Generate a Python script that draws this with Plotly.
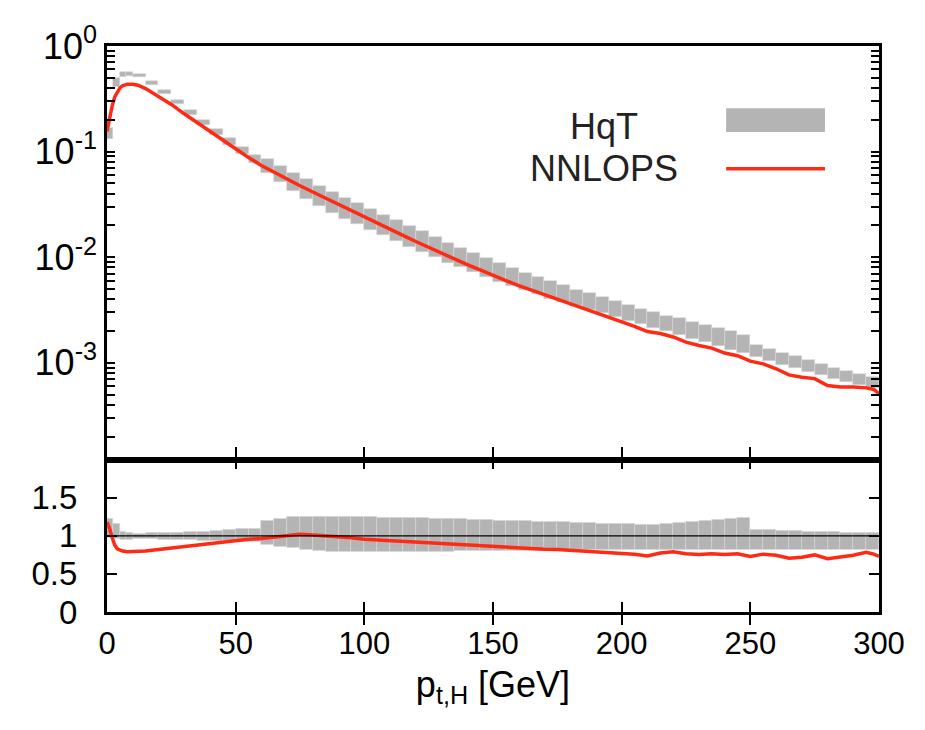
import plotly.graph_objects as go

# ---------------- data ----------------
# HqT bins (GeV)
bin_edges = [0, 2.5, 5, 7.5, 10, 15, 20, 25, 30, 35, 40, 45, 50, 55, 60, 65, 70, 75, 80, 85,
             90, 95, 100, 105, 110, 115, 120, 125, 130, 135, 140, 145, 150, 155, 160, 165, 170,
             175, 180, 185, 190, 195, 200, 205, 210, 215, 220, 225, 230, 235, 240, 245, 250, 255,
             260, 265, 270, 275, 280, 285, 290, 295, 300]
# HqT central value per bin
hqt_central = [0.135, 0.43, 0.53, 0.55, 0.53, 0.45, 0.365, 0.295, 0.237, 0.19, 0.153, 0.124,
               0.102, 0.085, 0.0712, 0.0598, 0.0506, 0.0436, 0.0380, 0.0333, 0.0294, 0.0260,
               0.0230, 0.0204, 0.0181, 0.0160, 0.0142, 0.0126, 0.0112, 0.0100, 0.0090, 0.0081,
               0.0073, 0.0066, 0.0060, 0.0055, 0.0050, 0.0046, 0.0042, 0.0039, 0.0036, 0.0033,
               0.00305, 0.00282, 0.00262, 0.00242, 0.00224, 0.00207, 0.00192, 0.00177, 0.00163,
               0.00150, 0.00138, 0.00127, 0.00117, 0.00108, 0.00100, 0.00093, 0.00086, 0.00080,
               0.00075, 0.00071]
# HqT uncertainty band relative to central (ratio panel)
hqt_lo_ratio = [0.97, 0.96, 0.95, 0.95, 0.96, 0.96, 0.955, 0.95, 0.945, 0.94, 0.935, 0.93,
                0.925, 0.92, 0.88, 0.86, 0.84, 0.82, 0.80, 0.79, 0.79, 0.79, 0.79, 0.79, 0.79,
                0.79, 0.79, 0.795, 0.795, 0.80, 0.80, 0.80, 0.805, 0.805, 0.81, 0.81, 0.81,
                0.815, 0.815, 0.815, 0.82, 0.82, 0.82, 0.82, 0.82, 0.82, 0.82, 0.82, 0.82, 0.82,
                0.82, 0.82, 0.82, 0.82, 0.82, 0.82, 0.82, 0.82, 0.82, 0.82, 0.82, 0.82]
hqt_hi_ratio = [1.23, 1.16, 1.06, 1.04, 1.03, 1.035, 1.04, 1.045, 1.05, 1.06, 1.07, 1.08,
                1.09, 1.10, 1.20, 1.22, 1.245, 1.25, 1.25, 1.25, 1.25, 1.245, 1.245, 1.24, 1.24,
                1.235, 1.235, 1.23, 1.225, 1.22, 1.215, 1.21, 1.205, 1.20, 1.195, 1.19, 1.185,
                1.18, 1.175, 1.17, 1.165, 1.16, 1.155, 1.15, 1.145, 1.16, 1.175, 1.19, 1.20,
                1.21, 1.22, 1.235, 1.08, 1.075, 1.07, 1.065, 1.06, 1.055, 1.05, 1.045, 1.04, 1.035]

# NNLOPS curve
nnlops_pt = [0, 1, 2, 3, 4, 5, 6, 8, 10, 12, 15, 20, 25, 30, 35, 40, 45, 50, 55, 60, 65, 70,
             75, 80, 85, 90, 95, 100, 105, 110, 115, 120, 125, 130, 135, 140, 145, 150, 155,
             160, 165, 170, 175, 180, 185, 190, 195, 200, 205, 210, 215, 220, 225, 230, 235,
             240, 245, 250, 255, 260, 265, 270, 275, 280, 285, 290, 295, 298, 300]
nnlops_val = [0.155, 0.21, 0.27, 0.33, 0.37, 0.40, 0.42, 0.435, 0.435, 0.425, 0.395, 0.335,
              0.28, 0.228, 0.188, 0.154, 0.127, 0.105, 0.088, 0.074, 0.0635, 0.0545, 0.0475,
              0.0415, 0.0362, 0.0317, 0.0278, 0.0238, 0.0208, 0.0183, 0.0161, 0.0141, 0.0124,
              0.0109, 0.0096, 0.0085, 0.0076, 0.0067, 0.0060, 0.0054, 0.0049, 0.0044, 0.0040,
              0.0036, 0.0033, 0.0030, 0.0027, 0.00245, 0.00222, 0.00198, 0.00190, 0.00176,
              0.00157, 0.00146, 0.00138, 0.00124, 0.00117, 0.00104, 0.00098, 0.00088, 0.00077,
              0.00073, 0.00071, 0.00061, 0.00059, 0.00059, 0.00058, 0.00056, 0.00051]
nnlops_ratio = [1.18, 1.10, 0.98, 0.88, 0.83, 0.81, 0.80, 0.79, 0.79, 0.795, 0.80, 0.82, 0.84,
                0.86, 0.88, 0.90, 0.92, 0.94, 0.955, 0.965, 0.98, 0.995, 1.02, 1.01, 1.00, 0.99,
                0.975, 0.955, 0.945, 0.94, 0.935, 0.925, 0.915, 0.905, 0.895, 0.88, 0.87, 0.86,
                0.845, 0.835, 0.83, 0.825, 0.82, 0.81, 0.80, 0.79, 0.775, 0.77, 0.76, 0.735,
                0.775, 0.79, 0.765, 0.755, 0.765, 0.755, 0.765, 0.73, 0.76, 0.745, 0.705, 0.72,
                0.75, 0.70, 0.72, 0.745, 0.785, 0.76, 0.73]

y_tickvals = [1, 0.1, 0.01, 0.001]
y_ticktext = ["10<sup>0</sup>", "10<sup>-1</sup>", "10<sup>-2</sup>", "10<sup>-3</sup>"]
r_tickvals = [0, 0.5, 1, 1.5]
r_ticktext = ["0", "0.5", "1", "1.5"]
x_tickvals = [0, 50, 100, 150, 200, 250, 300]
ref_line = [1, 1]

# ---------------- derived ----------------
centers = [(a + b) / 2 for a, b in zip(bin_edges[:-1], bin_edges[1:])]
widths = [b - a for a, b in zip(bin_edges[:-1], bin_edges[1:])]
band_lo = [c * l for c, l in zip(hqt_central, hqt_lo_ratio)]
band_hi = [c * h for c, h in zip(hqt_central, hqt_hi_ratio)]

minor_vals = [m * 10.0 ** e for e in range(-4, 0) for m in range(2, 10)]
all_yvals = y_tickvals + minor_vals
all_ytext = y_ticktext + [""] * len(minor_vals)

GRAY = "#b4b4b4"
RED = "#ff2a14"
FONT = "Liberation Sans, Arial, Helvetica, sans-serif"

fig = go.Figure()

fig.add_trace(go.Bar(
    x=centers, y=[h - l for h, l in zip(band_hi, band_lo)], base=band_lo, width=widths,
    marker=dict(color=GRAY, line=dict(color="#d6d6d6", width=0.6)),
    xaxis="x", yaxis="y", showlegend=False, hoverinfo="skip"))
fig.add_trace(go.Scatter(
    x=nnlops_pt, y=nnlops_val, mode="lines", line=dict(color=RED, width=3.5),
    xaxis="x", yaxis="y", showlegend=False))

fig.add_trace(go.Bar(
    x=centers, y=[h - l for h, l in zip(hqt_hi_ratio, hqt_lo_ratio)], base=hqt_lo_ratio,
    width=widths, marker=dict(color=GRAY, line=dict(color="#d6d6d6", width=0.6)),
    xaxis="x2", yaxis="y2", showlegend=False, hoverinfo="skip"))
fig.add_trace(go.Scatter(
    x=[0, 300], y=ref_line, mode="lines", line=dict(color="black", width=1.3),
    xaxis="x2", yaxis="y4", showlegend=False))
fig.add_trace(go.Scatter(
    x=nnlops_pt, y=nnlops_ratio, mode="lines", line=dict(color=RED, width=3.5),
    xaxis="x2", yaxis="y2", showlegend=False))

split = 0.269
line_common = dict(showline=True, linecolor="black", linewidth=2.5, ticks="inside",
                   tickcolor="black", showgrid=False, zeroline=False)
y_range = [-3.917, 0]

fig.update_layout(
    width=909, height=714,
    margin=dict(l=99, r=37, t=24, b=110),
    paper_bgcolor="white", plot_bgcolor="white",
    barmode="overlay", bargap=0,
    font=dict(family=FONT, size=32, color="black"),
    xaxis=dict(domain=[0, 1], anchor="y", range=[0, 300], tickvals=x_tickvals,
               showticklabels=False, ticklen=10, tickwidth=2, mirror=True, **line_common),
    yaxis=dict(domain=[split, 1], anchor="x", type="log", range=y_range,
               tickvals=all_yvals, ticktext=all_ytext, ticklen=8, tickwidth=1.8,
               ticklabeloverflow="allow", tickfont=dict(size=36),
               mirror="allticks", **line_common),
    xaxis2=dict(domain=[0, 1], anchor="y2", range=[0, 300], tickvals=x_tickvals,
                ticklen=10, tickwidth=2, tickfont=dict(size=31), ticklabelstandoff=2,
                title=dict(text="p<sub>t,H</sub> [GeV]", font=dict(size=36), standoff=12),
                mirror="allticks", **line_common),
    yaxis2=dict(domain=[0, split], anchor="x2", range=[0, 2], tickvals=r_tickvals,
                showticklabels=False, ticklen=10, tickwidth=2,
                mirror="allticks", **line_common),
    # label-only axis for the ratio panel (transparent outside ticks push labels left)
    yaxis4=dict(overlaying="y2", anchor="x2", range=[0, 2], side="left",
                tickvals=r_tickvals, ticktext=r_ticktext, ticks="outside", ticklen=22,
                tickcolor="rgba(0,0,0,0)", tickfont=dict(size=33), showline=False,
                showgrid=False, zeroline=False, ticklabeloverflow="allow"),
)

# legend (drawn by hand: text left of the key symbol)
fig.add_shape(type="rect", xref="paper", yref="paper", x0=0.802, x1=0.930, y0=0.848, y1=0.890,
              fillcolor=GRAY, line=dict(width=0))
fig.add_shape(type="line", xref="paper", yref="paper", x0=0.802, x1=0.930, y0=0.783, y1=0.783,
              line=dict(color=RED, width=3.5))
fig.add_annotation(xref="paper", yref="paper", x=0.644, y=0.857, text="HqT", showarrow=False,
                   xanchor="center", yanchor="middle", font=dict(size=36, color="#222222"))
fig.add_annotation(xref="paper", yref="paper", x=0.644, y=0.784, text="NNLOPS", showarrow=False,
                   xanchor="center", yanchor="middle", font=dict(size=36, color="#222222"))

fig.write_html("out.html")
